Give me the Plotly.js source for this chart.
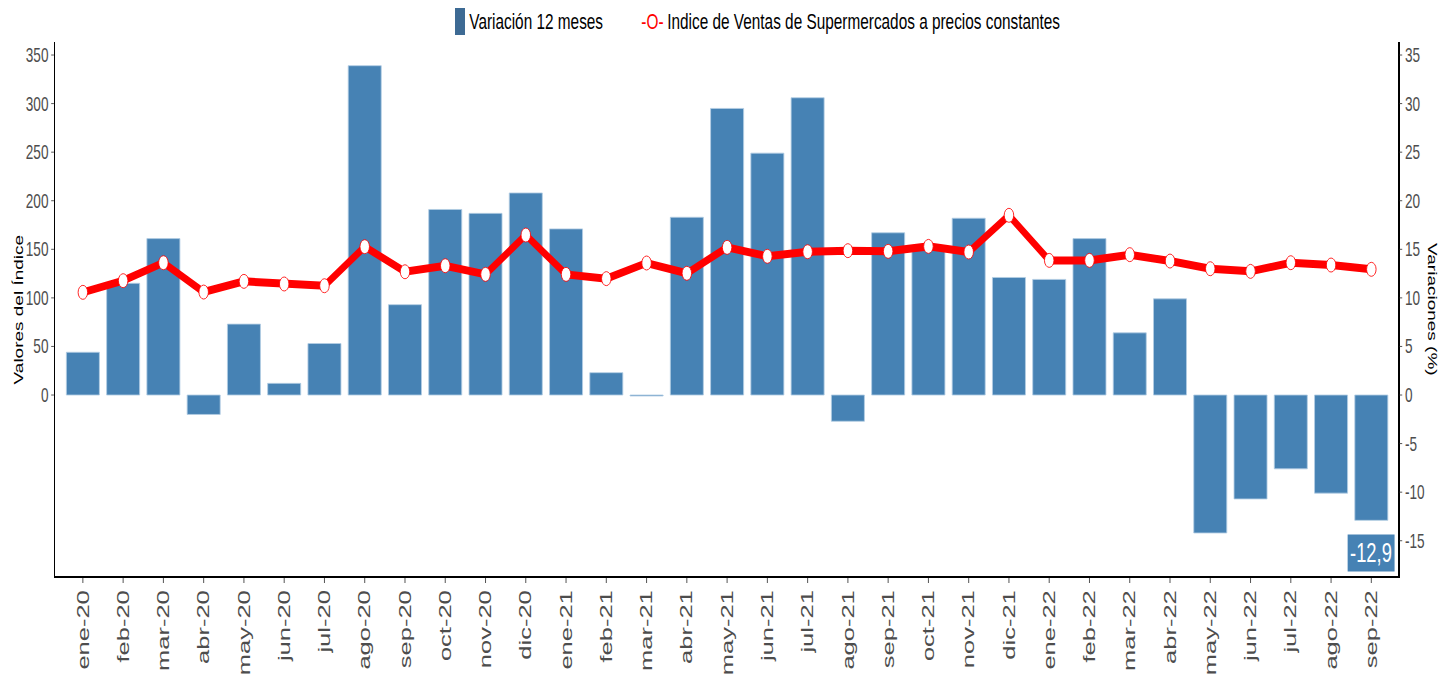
<!DOCTYPE html>
<html>
<head>
<meta charset="utf-8">
<script src="https://cdn.plot.ly/plotly-3.0.1.min.js"></script>
<style>
  html, body { margin: 0; padding: 0; overflow: hidden; background: #fff; width: 1450px; height: 677px; }
  #chart { width: 2132px; height: 677px; transform: scaleX(0.68011); transform-origin: 0 0; }
</style>
</head>
<body>
<div id="chart"></div>
<script>
// ---- data ----
const categories = ['ene-20','feb-20','mar-20','abr-20','may-20','jun-20','jul-20','ago-20','sep-20','oct-20','nov-20','dic-20',
  'ene-21','feb-21','mar-21','abr-21','may-21','jun-21','jul-21','ago-21','sep-21','oct-21','nov-21','dic-21',
  'ene-22','feb-22','mar-22','abr-22','may-22','jun-22','jul-22','ago-22','sep-22'];
const variacion = [4.4, 11.5, 16.1, -2.0, 7.3, 1.2, 5.3, 33.9, 9.3, 19.1, 18.7, 20.8,
  17.1, 2.3, -0.1, 18.3, 29.5, 24.9, 30.6, -2.7, 16.7, 15.0, 18.2, 12.1,
  11.9, 16.1, 6.4, 9.9, -14.2, -10.7, -7.6, -10.1, -12.9];
const indice = [105.7, 117.7, 136.2, 106.0, 117.0, 114.3, 112.5, 152.7, 126.9, 133.1, 124.2, 164.7,
  124.2, 119.8, 135.9, 125.3, 152.0, 142.8, 147.5, 148.6, 147.9, 153.0, 147.2, 185.0,
  138.6, 138.6, 144.5, 137.9, 130.0, 127.3, 136.2, 133.8, 129.4];
const leftTicks = [0, 50, 100, 150, 200, 250, 300, 350];
const rightTicks = [-15, -10, -5, 0, 5, 10, 15, 20, 25, 30, 35];
const seriesNames = ['Variación 12 meses', 'Indice de Ventas de Supermercados a precios constantes'];
const axisTitles = ['Valores del Índice', 'Variaciones (%)'];

// ---- geometry helpers (layout only) ----
const S = 0.68011, W = 2132, H = 677;
const M = {l: 81, r: 76, t: 42, b: 101};
const PW = W - M.l - M.r, PH = H - M.t - M.b;
const px = v => (v / S - M.l) / PW;       // screen x -> paper x
const py = v => 1 - (v - M.t) / PH;       // screen y -> paper y

const FONT = '"Liberation Sans", Arial, sans-serif';
const GREY = '#4d4d4d';

const lastVal = variacion[variacion.length - 1];
const lastCat = categories[categories.length - 1];

const traces = [
  {
    type: 'bar', x: categories, y: variacion, yaxis: 'y', name: seriesNames[0],
    width: 0.82,
    marker: {color: '#4682B4', line: {color: '#b3cde3', width: 1}},
    hoverinfo: 'x+y'
  },
  {
    type: 'scatter', mode: 'lines+markers', x: categories, y: indice, yaxis: 'y2', name: seriesNames[1],
    line: {color: '#ff0000', width: 8},
    marker: {size: 14, color: '#ffffff', line: {color: '#ff0000', width: 1}},
    hoverinfo: 'x+y'
  }
];

const layout = {
  width: W, height: H,
  margin: M,
  paper_bgcolor: '#ffffff', plot_bgcolor: '#ffffff',
  showlegend: false,
  font: {family: FONT, color: GREY},
  xaxis: {
    type: 'category', range: [-0.69, 32.67], automargin: false,
    showline: true, linecolor: '#000', linewidth: 2,
    ticks: 'outside', ticklen: 5, tickwidth: 1, tickcolor: '#333',
    ticklabelstandoff: -3,
    tickangle: -90, tickfont: {family: FONT, size: 25.5, color: GREY},
    showgrid: false, zeroline: false
  },
  yaxis: {
    side: 'right', range: [-18.63, 36.34], automargin: false,
    tickvals: rightTicks, ticktext: rightTicks.map(String),
    showline: true, linecolor: '#000', linewidth: 1.5,
    ticks: 'outside', ticklen: 4, tickwidth: 1, tickcolor: '#333',
    tickfont: {family: FONT, size: 20, color: GREY},
    showgrid: false, zeroline: false
  },
  yaxis2: {
    overlaying: 'y', side: 'left', range: [-186.3, 363.4], automargin: false,
    tickvals: leftTicks, ticktext: leftTicks.map(String),
    showline: true, linecolor: '#000', linewidth: 1.5,
    ticks: 'outside', ticklen: 4, tickwidth: 1, tickcolor: '#333',
    tickfont: {family: FONT, size: 20, color: GREY},
    showgrid: false, zeroline: false
  },
  shapes: [
    {type: 'rect', xref: 'paper', yref: 'paper', x0: px(455), x1: px(465), y0: py(35), y1: py(8),
     fillcolor: '#3d6a94', line: {width: 0}}
  ],
  annotations: [
    {xref: 'paper', yref: 'paper', x: px(468), y: py(21), xanchor: 'left', yanchor: 'middle',
     text: seriesNames[0], showarrow: false, font: {family: FONT, size: 22.6, color: '#000'}},
    {xref: 'paper', yref: 'paper', x: px(640), y: py(21), xanchor: 'left', yanchor: 'middle',
     text: '-O-', showarrow: false, font: {family: FONT, size: 22.6, color: '#ff0000'}},
    {xref: 'paper', yref: 'paper', x: px(666), y: py(21), xanchor: 'left', yanchor: 'middle',
     text: seriesNames[1], showarrow: false, font: {family: FONT, size: 22.6, color: '#000'}},
    {xref: 'paper', yref: 'paper', x: px(18), y: 0.5, xanchor: 'center', yanchor: 'middle',
     text: axisTitles[0], textangle: -90, showarrow: false, font: {family: FONT, size: 19, color: '#000'}},
    {xref: 'paper', yref: 'paper', x: px(1433), y: 0.5, xanchor: 'center', yanchor: 'middle',
     text: axisTitles[1], textangle: 90, showarrow: false, font: {family: FONT, size: 19, color: '#000'}},
    {xref: 'x', yref: 'y', x: lastCat, y: lastVal - 3.4, xanchor: 'center', yanchor: 'middle',
     text: String(lastVal).replace('.', ','), showarrow: false,
     bgcolor: '#4682B4', borderpad: 3,
     font: {family: FONT, size: 27, color: '#ffffff'}}
  ]
};

Plotly.newPlot('chart', traces, layout, {displayModeBar: false, responsive: false});
</script>
</body>
</html>
